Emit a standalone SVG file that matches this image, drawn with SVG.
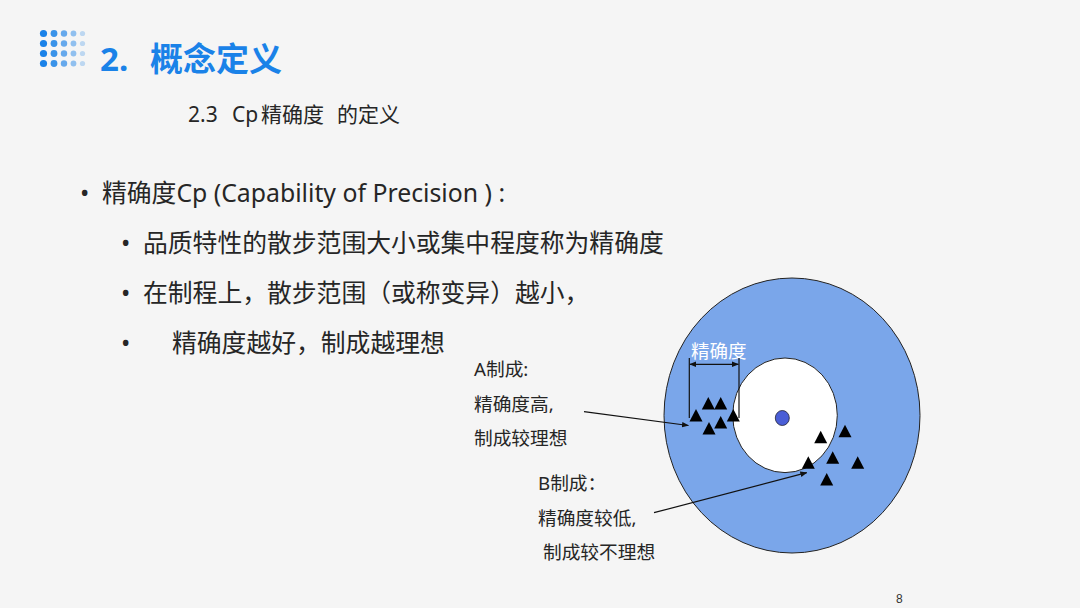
<svg xmlns="http://www.w3.org/2000/svg" width="1080" height="608" viewBox="0 0 1080 608">
<defs>
<style>
.cjk{font-family:"Noto Sans","Noto Sans CJK SC",sans-serif;fill:#262626}
.title{font-family:"Noto Sans","Noto Sans CJK SC",sans-serif;font-weight:bold;fill:#1a82e8;font-size:33px}
.b1{font-size:24.8px}
.ann{font-size:18.7px}
.tri{fill:#000}
.ln{stroke:#111;stroke-width:1.2;fill:none}
.dot{fill:#1a82e8}
</style>
<marker id="ah" viewBox="0 0 10 10" refX="9" refY="5" markerWidth="7" markerHeight="7" orient="auto-start-reverse" markerUnits="userSpaceOnUse">
<path d="M0,1 L10,5 L0,9 z" fill="#111"/>
</marker>
<polygon id="t" points="0,-7 6.5,5.5 -6.5,5.5"/>
</defs>
<rect width="1080" height="608" fill="#f5f5f5"/>
<g id="logo">
<g class="dot">
<circle cx="43.5" cy="33.5" r="3.6"/><circle cx="43.5" cy="43.5" r="3.6"/><circle cx="43.5" cy="53.5" r="3.6"/><circle cx="43.5" cy="63.5" r="3.6"/>
<g opacity="0.85"><circle cx="54" cy="33.5" r="3.4"/><circle cx="54" cy="43.5" r="3.4"/><circle cx="54" cy="53.5" r="3.4"/><circle cx="54" cy="63.5" r="3.4"/></g>
<g opacity="0.65"><circle cx="64" cy="33.5" r="3.2"/><circle cx="64" cy="43.5" r="3.2"/><circle cx="64" cy="53.5" r="3.2"/><circle cx="64" cy="63.5" r="3.2"/></g>
<g opacity="0.45"><circle cx="73.5" cy="33.5" r="2.9"/><circle cx="73.5" cy="43.5" r="2.9"/><circle cx="73.5" cy="53.5" r="2.9"/><circle cx="73.5" cy="63.5" r="2.9"/></g>
<g opacity="0.25"><circle cx="82.5" cy="33.5" r="2.6"/><circle cx="82.5" cy="43.5" r="2.6"/><circle cx="82.5" cy="53.5" r="2.6"/><circle cx="82.5" cy="63.5" r="2.6"/></g>
</g>
</g>
<g id="title"><text class="title" x="100" y="71">2.<tspan x="150">概念定义</tspan></text></g>
<g id="subtitle"><text class="cjk" x="188" y="122" font-size="21">2.3<tspan x="232">Cp</tspan><tspan x="261">精确度</tspan><tspan x="337">的定义</tspan></text></g>
<g id="bullets" class="cjk b1">
<text x="80" y="202">•</text><text x="102" y="202">精确度Cp (Capability of Precision ) :</text>
<text x="121" y="252">•</text><text x="143" y="252">品质特性的散步范围大小或集中程度称为精确度</text>
<text x="121" y="302">•</text><text x="143" y="302">在制程上，散步范围（或称变异）越小，</text>
<text x="121" y="352">•</text><text x="172" y="352">精确度越好，制成越理想</text>
</g>
<g id="target">
<ellipse cx="792" cy="415.5" rx="128" ry="137.5" fill="#7aa6ea" stroke="#222" stroke-width="1"/>
<ellipse cx="785" cy="415.3" rx="52.3" ry="57.3" fill="#fff" stroke="#222" stroke-width="1"/>
<ellipse cx="782.3" cy="418" rx="7" ry="7.5" fill="#4a5ed6" stroke="#223" stroke-width="0.8"/>
</g>
<g id="points-A" class="tri">
<use href="#t" x="708.3" y="404"/><use href="#t" x="720.7" y="404"/><use href="#t" x="696" y="416"/><use href="#t" x="733.3" y="416"/><use href="#t" x="709" y="429"/><use href="#t" x="720.7" y="423"/>
</g>
<g id="points-B" class="tri">
<use href="#t" x="820.7" y="437.7"/><use href="#t" x="845" y="431.7"/><use href="#t" x="832.7" y="458.3"/><use href="#t" x="808.3" y="463.3"/><use href="#t" x="857.7" y="463.3"/><use href="#t" x="826.7" y="480"/>
</g>
<g id="precision-label">
<text x="691" y="358" font-size="18.5" font-family="Noto Sans CJK SC,sans-serif" fill="#fff">精确度</text>
</g>
<g id="connectors">
<line class="ln" x1="689.3" y1="358" x2="689.3" y2="418"/>
<line class="ln" x1="739" y1="358" x2="739" y2="418"/>
<line class="ln" x1="690" y1="364.3" x2="738.3" y2="364.3" marker-start="url(#ah)" marker-end="url(#ah)"/>
<line class="ln" x1="584" y1="411.7" x2="688.3" y2="425.5" marker-end="url(#ah)"/>
<line class="ln" x1="654" y1="512.7" x2="806.7" y2="472.7" marker-end="url(#ah)"/>
</g>
<g id="label-A" class="cjk ann">
<text x="474" y="376">A制成:</text>
<text x="474" y="411">精确度高,</text>
<text x="474" y="445">制成较理想</text>
</g>
<g id="label-B" class="cjk ann">
<text x="538" y="490">B制成：</text>
<text x="538" y="525">精确度较低,</text>
<text x="543" y="559">制成较不理想</text>
</g>
<g id="page"><text x="896" y="603" font-size="12" font-family="Liberation Sans,sans-serif" fill="#333">8</text></g>
</svg>
